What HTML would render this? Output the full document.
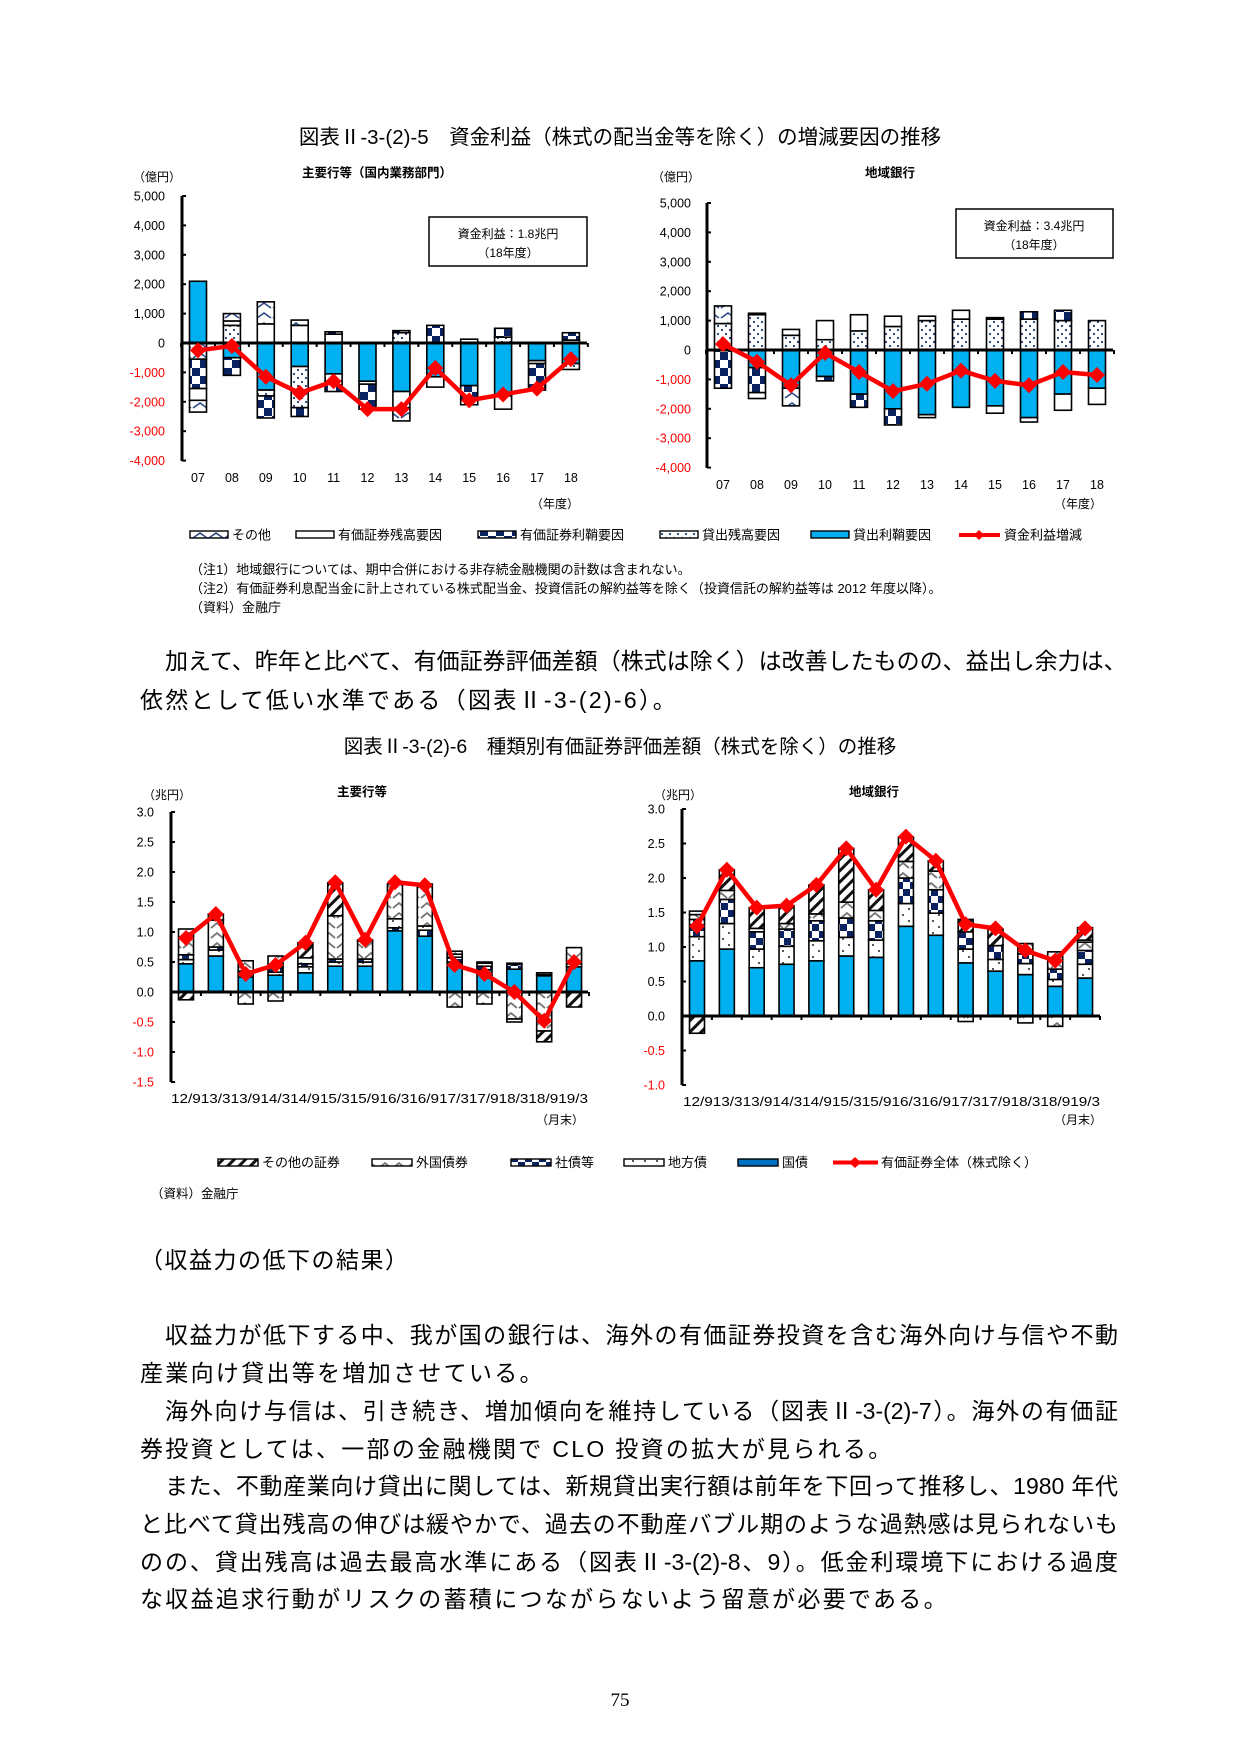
<!DOCTYPE html>
<html><head><meta charset="utf-8">
<style>
html,body{margin:0;padding:0;background:#fff;}
body{width:1241px;height:1754px;position:relative;overflow:hidden;font-family:"Liberation Sans","Noto Sans CJK JP",sans-serif;}
svg{position:absolute;left:0;top:0;}
.ln{position:absolute;font-family:"Liberation Sans","Noto Sans CJK JP",sans-serif;font-size:23px;color:#000;white-space:nowrap;text-align:justify;text-align-last:justify;height:30px;line-height:30px;}
</style></head>
<body>
<svg id="s" width="1241" height="1754" xmlns="http://www.w3.org/2000/svg" font-family="Liberation Sans, Noto Sans CJK JP, sans-serif">
<defs>
<pattern id="b" width="4" height="4" patternUnits="userSpaceOnUse"><rect width="4" height="4" fill="#00B0F0"/></pattern>
<pattern id="wh" width="4" height="4" patternUnits="userSpaceOnUse"><rect width="4" height="4" fill="#fff"/></pattern>
<pattern id="d" width="8" height="8" patternUnits="userSpaceOnUse"><rect width="8" height="8" fill="#fff"/><circle cx="2" cy="2" r="1.1" fill="#1F3A7A"/><circle cx="6" cy="6" r="1.1" fill="#1F3A7A"/></pattern>
<pattern id="k" width="16" height="16" patternUnits="userSpaceOnUse"><rect width="16" height="16" fill="#fff"/><rect width="8" height="8" fill="#0B2260"/><rect x="8" y="8" width="8" height="8" fill="#0B2260"/></pattern>
<pattern id="w1" width="16" height="10" patternUnits="userSpaceOnUse"><rect width="16" height="10" fill="#fff"/><path d="M1 8 L8 3 L15 8" stroke="#2F4A8A" stroke-width="1.6" fill="none"/></pattern>
<pattern id="ot" width="8" height="8" patternUnits="userSpaceOnUse" patternTransform="rotate(-45)"><rect width="8" height="8" fill="#fff"/><rect width="8" height="3" fill="#111"/></pattern>
<pattern id="fo" width="14" height="10" patternUnits="userSpaceOnUse"><rect width="14" height="10" fill="#fff"/><path d="M1 8 L7 3 L13 8" stroke="#777" stroke-width="1.8" fill="none"/></pattern>
<pattern id="co" width="14" height="14" patternUnits="userSpaceOnUse"><rect width="14" height="14" fill="#fff"/><rect width="7" height="7" fill="#0B2260"/><rect x="7" y="7" width="7" height="7" fill="#0B2260"/></pattern>
<pattern id="lo" width="12" height="12" patternUnits="userSpaceOnUse"><rect width="12" height="12" fill="#fff"/><circle cx="3" cy="3" r="1" fill="#222"/><circle cx="9" cy="9" r="1" fill="#222"/></pattern>
</defs>
<g id="g"></g>
</svg>

<div class="ln" style="left:165px;top:646px;width:953px;">加えて、昨年と比べて、有価証券評価差額（株式は除く）は改善したものの、益出し余力は、</div>
<div class="ln" style="left:140px;top:685px;text-align-last:left;letter-spacing:2.3px;">依然として低い水準である（図表Ⅱ-3-(2)-6）。</div>
<div class="ln" style="left:140px;top:1245px;text-align-last:left;letter-spacing:1.5px;">（収益力の低下の結果）</div>
<div class="ln" style="left:165px;top:1320px;width:953px;">収益力が低下する中、我が国の銀行は、海外の有価証券投資を含む海外向け与信や不動</div>
<div class="ln" style="left:140px;top:1358px;text-align-last:left;letter-spacing:2.3px;">産業向け貸出等を増加させている。</div>
<div class="ln" style="left:165px;top:1396px;width:953px;">海外向け与信は、引き続き、増加傾向を維持している（図表Ⅱ-3-(2)-7）。海外の有価証</div>
<div class="ln" style="left:140px;top:1434px;text-align-last:left;letter-spacing:2.3px;">券投資としては、一部の金融機関で CLO 投資の拡大が見られる。</div>
<div class="ln" style="left:165px;top:1471px;width:953px;">また、不動産業向け貸出に関しては、新規貸出実行額は前年を下回って推移し、1980 年代</div>
<div class="ln" style="left:140px;top:1509px;width:978px;">と比べて貸出残高の伸びは緩やかで、過去の不動産バブル期のような過熱感は見られないも</div>
<div class="ln" style="left:140px;top:1547px;width:978px;">のの、貸出残高は過去最高水準にある（図表Ⅱ-3-(2)-8、9）。低金利環境下における過度</div>
<div class="ln" style="left:140px;top:1584px;text-align-last:left;letter-spacing:2.3px;">な収益追求行動がリスクの蓄積につながらないよう留意が必要である。</div>

<script>
var g=document.getElementById('g');var NS='http://www.w3.org/2000/svg';
function el(t,a,txt){var e=document.createElementNS(NS,t);for(var k in a)e.setAttribute(k,a[k]);if(txt!==undefined)e.textContent=txt;g.appendChild(e);return e;}
function T(x,y,s,size,anchor,fill,weight){return el('text',{x:x,y:y,'font-size':size||12,'text-anchor':anchor||'start',fill:fill||'#000','font-weight':weight||'normal'},s);}
function chart(c){
  var Y=function(v){return c.z-v*c.u;};
  c.data.forEach(function(d,i){
    var cx=c.c0+i*c.sp, x=cx-c.w/2, acc=0;
    d.p.forEach(function(s){var y1=Y(acc+s[1]),y0=Y(acc);el('rect',{x:x,y:y1,width:c.w,height:y0-y1,fill:'url(#'+s[0]+')',stroke:'#000','stroke-width':1.6});acc+=s[1];});
    acc=0;
    d.n.forEach(function(s){var y0=Y(-acc),y1=Y(-acc-s[1]);el('rect',{x:x,y:y0,width:c.w,height:y1-y0,fill:'url(#'+s[0]+')',stroke:'#000','stroke-width':1.6});acc+=s[1];});
  });
  el('line',{x1:c.ax,y1:c.top,x2:c.ax,y2:c.bot,stroke:'#000','stroke-width':3});
  el('line',{x1:c.ax,y1:c.z,x2:c.xe,y2:c.z,stroke:'#000','stroke-width':3});
  for(var i=0;i<=c.data.length;i++){var tx=c.c0+(i-0.5)*c.sp;el('line',{x1:tx,y1:c.z,x2:tx,y2:c.z+4,stroke:'#000','stroke-width':2});}
  c.ticks.forEach(function(t){var y=Y(t[0]);el('line',{x1:c.ax,y1:y,x2:c.ax+4,y2:y,stroke:'#000','stroke-width':2});T(c.tx,y+4.5,t[1],12.5,'end',t[0]<0?'#FF0000':'#000');});
  var pts=c.data.map(function(d,i){return (c.c0+i*c.sp)+','+Y(d.l);}).join(' ');
  el('polyline',{points:pts,fill:'none',stroke:'#FF0000','stroke-width':4.5,'stroke-linejoin':'round'});
  c.data.forEach(function(d,i){var x=c.c0+i*c.sp,y=Y(d.l),r=8;el('polygon',{points:(x)+','+(y-r)+' '+(x+r)+','+y+' '+x+','+(y+r)+' '+(x-r)+','+y,fill:'#FF0000'});});
}
T(620,144,'図表Ⅱ-3-(2)-5　資金利益（株式の配当金等を除く）の増減要因の推移',20.5,'middle');
T(377,177,'主要行等（国内業務部門）',12.5,'middle','#000','bold');
T(890,177,'地域銀行',12.5,'middle','#000','bold');
T(133,181,'（億円）',12,'start');
T(652,181,'（億円）',12,'start');
var C1=[
{p:[['b',2100]],n:[['w1',550],['k',1000],['wh',400],['w1',400]],l:-250},
{p:[['d',600],['wh',150],['w1',250]],n:[['b',500],['k',600]],l:-100},
{p:[['wh',650],['w1',750]],n:[['b',1600],['d',200],['k',750]],l:-1150},
{p:[['wh',600],['w1',180]],n:[['b',800],['d',1400],['k',300]],l:-1700},
{p:[['wh',300],['k',80]],n:[['b',1050],['wh',250],['k',350]],l:-1300},
{p:[],n:[['b',1300],['wh',100],['k',850]],l:-2250},
{p:[['d',350],['k',70]],n:[['b',1650],['wh',550],['w1',450]],l:-2250},
{p:[['k',600]],n:[['b',1150],['wh',350]],l:-850},
{p:[['wh',130]],n:[['b',1450],['k',650]],l:-1950},
{p:[['d',200],['k',300]],n:[['b',1800],['wh',450]],l:-1750},
{p:[],n:[['b',600],['wh',100],['k',900]],l:-1550},
{p:[['wh',100],['k',250]],n:[['b',700],['d',200]],l:-550}];
var C2=[
{p:[['d',900],['w1',600]],n:[['k',1300]],l:200},
{p:[['d',1200],['k',50]],n:[['b',600],['k',850],['wh',200]],l:-400},
{p:[['d',500],['wh',200]],n:[['b',1300],['w1',600]],l:-1200},
{p:[['d',350],['wh',650]],n:[['b',900],['k',150]],l:-100},
{p:[['d',650],['wh',550]],n:[['b',1500],['k',450]],l:-750},
{p:[['d',800],['wh',350]],n:[['b',2000],['k',550]],l:-1400},
{p:[['d',1000],['wh',150]],n:[['b',2200],['wh',100]],l:-1150},
{p:[['d',1050],['wh',300]],n:[['b',1950]],l:-700},
{p:[['d',1050],['k',50]],n:[['b',1900],['wh',250]],l:-1050},
{p:[['d',1050],['k',250]],n:[['b',2300],['wh',150]],l:-1200},
{p:[['d',1000],['k',350]],n:[['b',1500],['wh',550]],l:-750},
{p:[['d',1000]],n:[['b',1300],['wh',550]],l:-850}];
var tk1=[[5000,'5,000'],[4000,'4,000'],[3000,'3,000'],[2000,'2,000'],[1000,'1,000'],[0,'0'],[-1000,'-1,000'],[-2000,'-2,000'],[-3000,'-3,000'],[-4000,'-4,000']];
chart({data:C1,ax:182,top:196,bot:461,z:343,u:0.0294,c0:198,sp:33.9,w:17,xe:587,tx:165,ticks:tk1});
chart({data:C2,ax:707,top:203,bot:468,z:350,u:0.0294,c0:723,sp:34,w:17,xe:1113,tx:691,ticks:tk1});
var yrs=['07','08','09','10','11','12','13','14','15','16','17','18'];
yrs.forEach(function(y,i){T(198+i*33.9,482,y,12.5,'middle');T(723+i*34,489,y,12.5,'middle');});
T(555,508,'（年度）',12,'middle');T(1078,508,'（年度）',12,'middle');
el('rect',{x:429,y:217,width:158,height:49,fill:'#fff',stroke:'#000','stroke-width':1.5});
T(508,238,'資金利益：1.8兆円',12,'middle');T(508,257,'（18年度）',12,'middle');
el('rect',{x:956,y:209,width:157,height:49,fill:'#fff',stroke:'#000','stroke-width':1.5});
T(1034,230,'資金利益：3.4兆円',12,'middle');T(1034,249,'（18年度）',12,'middle');
function lg(x,y,fill,label){el('rect',{x:x,y:y-4,width:38,height:7,fill:fill,stroke:'#000','stroke-width':1.4});T(x+42,y+4.5,label,13);}
lg(190,535,'url(#w1)','その他');lg(296,535,'#fff','有価証券残高要因');lg(478,535,'url(#k)','有価証券利鞘要因');lg(660,535,'url(#d)','貸出残高要因');lg(811,535,'#00B0F0','貸出利鞘要因');
el('line',{x1:959,y1:535,x2:1000,y2:535,stroke:'#FF0000','stroke-width':4});el('polygon',{points:'979,530 984,535 979,540 974,535',fill:'#FF0000'});T(1004,539.5,'資金利益増減',13);
T(190,574,'（注1）地域銀行については、期中合併における非存続金融機関の計数は含まれない。',13);
T(190,593,'（注2）有価証券利息配当金に計上されている株式配当金、投資信託の解約益等を除く（投資信託の解約益等は 2012 年度以降）。',13);
T(190,612,'（資料）金融庁',13);
T(620,753,'図表Ⅱ-3-(2)-6　種類別有価証券評価差額（株式を除く）の推移',19.5,'middle');
T(362,796,'主要行等',12.5,'middle','#000','bold');T(874,796,'地域銀行',12.5,'middle','#000','bold');
T(143,799,'（兆円）',12);T(654,799,'（兆円）',12);
var C3=[
{p:[['b',.47],['lo',.07],['co',.08],['fo',.43]],n:[['ot',.13]],l:.9},
{p:[['b',.6],['lo',.1],['co',.05],['fo',.45],['ot',.1]],n:[],l:1.3},
{p:[['b',.25],['lo',.05],['co',.05],['fo',.17]],n:[['fo',.2]],l:.3},
{p:[['b',.28],['lo',.05],['co',.07],['fo',.2]],n:[['fo',.15]],l:.45},
{p:[['b',.32],['lo',.1],['co',.05],['fo',.1],['ot',.25]],n:[],l:.82},
{p:[['b',.43],['lo',.07],['co',.05],['fo',.72],['ot',.55]],n:[],l:1.83},
{p:[['b',.43],['lo',.07],['co',.05],['fo',.3],['ot',.02]],n:[],l:.87},
{p:[['b',1.02],['co',.05],['lo',.15],['fo',.58]],n:[],l:1.83},
{p:[['b',.93],['co',.1],['lo',.07],['fo',.7]],n:[],l:1.78},
{p:[['b',.5],['co',.08],['lo',.05],['fo',.05]],n:[['fo',.25]],l:.45},
{p:[['b',.37],['co',.06],['lo',.05],['ot',.02]],n:[['fo',.2]],l:.3},
{p:[['b',.38],['co',.08],['lo',.02]],n:[['fo',.45],['lo',.05]],l:0},
{p:[['b',.27],['co',.02],['lo',.03]],n:[['fo',.65],['ot',.18]],l:-.48},
{p:[['b',.42],['lo',.05],['fo',.27]],n:[['ot',.25]],l:.5}];
var C4=[
{p:[['b',.8],['lo',.35],['co',.25],['fo',.07],['wh',.05]],n:[['ot',.25]],l:1.3},
{p:[['b',.97],['lo',.37],['co',.35],['fo',.13],['ot',.3]],n:[],l:2.12},
{p:[['b',.7],['lo',.27],['co',.25],['wh',.05],['ot',.3]],n:[],l:1.57},
{p:[['b',.75],['lo',.26],['co',.25],['fo',.08],['ot',.26]],n:[],l:1.6},
{p:[['b',.8],['lo',.29],['co',.29],['fo',.1],['ot',.42]],n:[],l:1.9},
{p:[['b',.87],['lo',.27],['co',.28],['fo',.23],['ot',.78]],n:[],l:2.43},
{p:[['b',.85],['lo',.25],['co',.28],['fo',.15],['ot',.3]],n:[],l:1.83},
{p:[['b',1.3],['lo',.33],['co',.37],['fo',.24],['ot',.35]],n:[],l:2.6},
{p:[['b',1.17],['lo',.32],['co',.34],['fo',.27],['ot',.15]],n:[],l:2.25},
{p:[['b',.77],['lo',.2],['co',.25],['ot',.18]],n:[['fo',.08]],l:1.33},
{p:[['b',.65],['lo',.17],['co',.2],['ot',.24]],n:[],l:1.27},
{p:[['b',.6],['lo',.16],['co',.14],['fo',.15]],n:[['fo',.1]],l:.95},
{p:[['b',.43],['lo',.1],['co',.15],['fo',.25]],n:[['fo',.15]],l:.8},
{p:[['b',.55],['lo',.2],['co',.2],['fo',.12],['wh',.03],['ot',.18]],n:[],l:1.27}];
var tk3=[[3,'3.0'],[2.5,'2.5'],[2,'2.0'],[1.5,'1.5'],[1,'1.0'],[.5,'0.5'],[0,'0.0'],[-.5,'-0.5'],[-1,'-1.0'],[-1.5,'-1.5']];
var tk4=[[3,'3.0'],[2.5,'2.5'],[2,'2.0'],[1.5,'1.5'],[1,'1.0'],[.5,'0.5'],[0,'0.0'],[-.5,'-0.5'],[-1,'-1.0']];
chart({data:C3,ax:171,top:812,bot:1082,z:992,u:60,c0:186,sp:29.85,w:15,xe:588,tx:154,ticks:tk3});
chart({data:C4,ax:682,top:809,bot:1085,z:1016,u:69,c0:697,sp:29.85,w:15,xe:1100,tx:665,ticks:tk4});
var xl='12/913/313/914/314/915/315/916/316/917/317/918/318/919/3';
el('text',{x:171,y:1103,'font-size':12.5,textLength:417,lengthAdjust:'spacingAndGlyphs'},xl);
el('text',{x:683,y:1106,'font-size':12.5,textLength:417,lengthAdjust:'spacingAndGlyphs'},xl);
T(560,1124,'（月末）',12,'middle');T(1078,1124,'（月末）',12,'middle');
function lg2(x,fill,label){el('rect',{x:x,y:1159,width:40,height:7,fill:fill,stroke:'#000','stroke-width':1.4});T(x+44,1167,label,13);}
lg2(218,'url(#ot)','その他の証券');lg2(372,'url(#fo)','外国債券');lg2(511,'url(#co)','社債等');lg2(624,'url(#lo)','地方債');lg2(738,'#0070C0','国債');
el('line',{x1:833,y1:1162.5,x2:878,y2:1162.5,stroke:'#FF0000','stroke-width':4});el('polygon',{points:'855,1157 861,1162.5 855,1168 849,1162.5',fill:'#FF0000'});T(881,1167,'有価証券全体（株式除く）',13);
T(151,1198,'（資料）金融庁',12.5);
el('text',{x:620,y:1706,'font-size':19,'text-anchor':'middle','font-family':'Liberation Serif, serif'},'75');
</script>
</body></html>
